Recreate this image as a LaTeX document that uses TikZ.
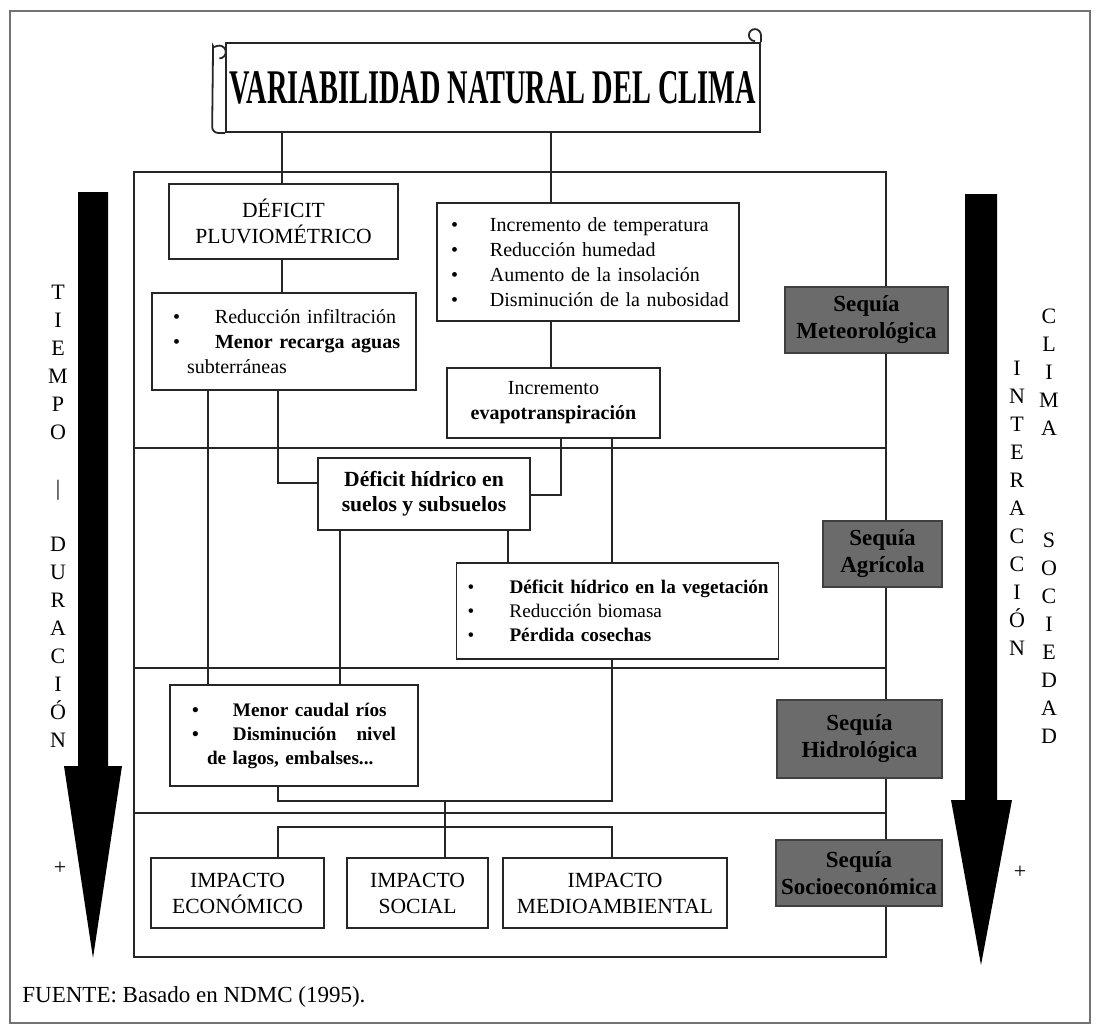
\documentclass[tikz,border=0pt]{standalone}
\usepackage{fontspec}
\setmainfont{Liberation Serif}

\tikzset{
  marco/.style={draw=black!55, line width=0.6pt},
  linea/.style={draw=black!85, line width=0.8pt},
  caja/.style={draw=black!85, line width=0.9pt, fill=white, inner sep=0pt, align=center,
    font=\fontsize{10.8}{13}\selectfont},
  lista/.style={caja, align=left, font=\fontsize{10}{12.5}\selectfont},
  sequia/.style={draw=black!75, line width=0.8pt, fill=black!58, inner sep=0pt, align=center,
    font=\fontsize{11.5}{13.5}\selectfont\bfseries},
  letras/.style={align=center, inner sep=0pt, anchor=north, font=\fontsize{11}{14}\selectfont},
}
\newcommand{\vin}[2]{\mbox{\makebox[#1][l]{\textbullet}#2}}

\begin{document}
\begin{tikzpicture}[x=0.5pt, y=-0.5pt]
\useasboundingbox (0,0) rectangle (1099,1030);
\fill[white] (0,0) rectangle (1099,1030);
\draw[marco] (10,11) rectangle (1090,1023);

% marco interior y franjas
\draw[linea] (134,172) rectangle (886,957);
\foreach \y in {448,668,813}
  \draw[linea] (134,\y) -- (886,\y);

% pergamino
\node[caja, minimum width=267pt, minimum height=44.5pt] (rollo) at (493,87.5)
  {\resizebox{263pt}{16pt}{\bfseries VARIABILIDAD NATURAL DEL CLIMA}};
\draw[linea, line width=0.9pt] (rollo.north east) -- ++(0,-7)
  arc[start angle=0, end angle=270, radius=3pt];
\draw[linea, line width=0.9pt, rounded corners=3pt] (rollo.south west) -- ++(-13,0) -- (213,52)
  arc[start angle=180, end angle=-90, radius=3.2pt];

% cajas
\node[caja, minimum width=114.5pt, minimum height=37.5pt] (defp) at (283.5,221.5)
  {DÉFICIT\\PLUVIOMÉTRICO};
\node[lista, text width=137pt, inner xsep=7pt, minimum height=59pt] (temp) at (588,262)
  {\vin{19.5pt}{Incremento de temperatura}\\
   \vin{19.5pt}{Reducción humedad}\\
   \vin{19.5pt}{Aumento de la insolación}\\
   \vin{19.5pt}{Disminución de la nubosidad}};
\node[lista, text width=111pt, inner xsep=10.5pt, minimum height=48.5pt] (infil) at (284,341.5)
  {\vin{21pt}{Reducción infiltración}\\
   \vin{21pt}{\textbf{Menor recarga aguas}}\\
   \hspace*{7pt}subterráneas};
\node[caja, font=\fontsize{10}{12.5}\selectfont, minimum width=106.5pt, minimum height=35pt] (evapo) at (553.5,403)
  {Incremento\\\textbf{evapotranspiración}};
\node[caja, font=\fontsize{10.8}{12.5}\selectfont\bfseries, minimum width=106pt, minimum height=36pt] (hidsuelo) at (424,494)
  {Déficit hídrico en\\suelos y subsuelos};
\node[lista, text width=150pt, inner xsep=5.5pt, minimum height=48pt, font=\fontsize{9.6}{12}\selectfont] (veg) at (617.5,611)
  {\vin{21pt}{\textbf{Déficit hídrico en la vegetación}}\\
   \vin{21pt}{Reducción biomasa}\\
   \vin{21pt}{\textbf{Pérdida cosechas}}};
\node[lista, text width=102pt, inner xsep=11pt, minimum height=50.5pt, font=\fontsize{9.6}{12}\selectfont\bfseries] (caudal) at (294,735.5)
  {\vin{20.5pt}{Menor caudal ríos}\\
   \makebox[20.5pt][l]{\textbullet}Disminución\hfill nivel\\
   \hspace*{7.5pt}de lagos, embalses...};
\node[caja, minimum width=86.5pt, minimum height=35pt] (econ) at (237.5,893) {IMPACTO\\ECONÓMICO};
\node[caja, minimum width=70.5pt, minimum height=35pt] (social) at (417.5,893) {IMPACTO\\SOCIAL};
\node[caja, minimum width=112pt, minimum height=35pt] (medio) at (615,893) {IMPACTO\\MEDIOAMBIENTAL};

% tipos de sequia
\node[sequia, minimum width=81.5pt, minimum height=33pt] (smet) at (866.5,320) {Sequía\\Meteorológica};
\node[sequia, minimum width=59.5pt, minimum height=33pt] (sagr) at (882.5,554) {Sequía\\Agrícola};
\node[sequia, minimum width=82.5pt, minimum height=39pt] (shid) at (859.5,739) {Sequía\\Hidrológica};
\node[sequia, minimum width=83pt, minimum height=33pt] (ssoc) at (859,873) {Sequía\\Socioeconómica};

% conectores
\coordinate (xa) at (208,0);
\coordinate (xb) at (278,0);
\coordinate (xc) at (340,0);
\coordinate (xd) at (508,0);
\coordinate (xe) at (561,0);
\coordinate (xf) at (612,0);
\coordinate (xg) at (445,0);
\coordinate (xs) at (282,0);
\coordinate (xt) at (551,0);
\coordinate (ya) at (0,483);
\coordinate (yb) at (0,495);
\coordinate (yc) at (0,801);
\coordinate (yd) at (0,827);

\draw[linea] (rollo.south -| xs) -- (defp.north -| xs);
\draw[linea] (rollo.south -| xt) -- (temp.north -| xt);
\draw[linea] (defp.south -| xs) -- (infil.north -| xs);
\draw[linea] (temp.south -| xt) -- (evapo.north -| xt);
\draw[linea] (infil.south -| xa) -- (caudal.north -| xa);
\draw[linea] (infil.south -| xb) |- (hidsuelo.west |- ya);
\draw[linea] (evapo.south -| xe) |- (hidsuelo.east |- yb);
\draw[linea] (evapo.south -| xf) -- (veg.north -| xf);
\draw[linea] (hidsuelo.south -| xc) -- (caudal.north -| xc);
\draw[linea] (hidsuelo.south -| xd) -- (veg.north -| xd);
\draw[linea] (veg.south -| xf) |- (yc -| xb) -- (caudal.south -| xb);
\draw[linea] (yc -| xg) -- (social.north -| xg);
\draw[linea] (econ.north -| xb) |- (yd -| xf) -- (medio.north -| xf);

% flechas laterales
\fill (78,192) -- (108,192) -- (108,766) -- (122,766) -- (93,958) -- (64,766) -- (78,766) -- cycle;
\fill (965,194) -- (997,194) -- (997,800) -- (1012,800) -- (981,965) -- (951,800) -- (965,800) -- cycle;

\node[letras] (tiempo) at (58,285)
  {T\\I\\E\\M\\P\\O\\\mbox{}\\|\\\mbox{}\\D\\U\\R\\A\\C\\I\\Ó\\N};
\node[letras] (interac) at (1017,361)
  {I\\N\\T\\E\\R\\A\\C\\C\\I\\Ó\\N};
\node[letras] (clima) at (1049,309)
  {C\\L\\I\\M\\A\\\mbox{}\\\mbox{}\\\mbox{}\\S\\O\\C\\I\\E\\D\\A\\D};
\node[font=\fontsize{11}{13}\selectfont] (masizq) at (60,868) {+};
\node[font=\fontsize{11}{13}\selectfont] (masder) at (1020,872) {+};

\node[anchor=west, inner sep=0pt, font=\fontsize{11.5}{14}\selectfont] (fuente) at (22,997)
  {FUENTE: Basado en NDMC (1995).};
\end{tikzpicture}
\end{document}
